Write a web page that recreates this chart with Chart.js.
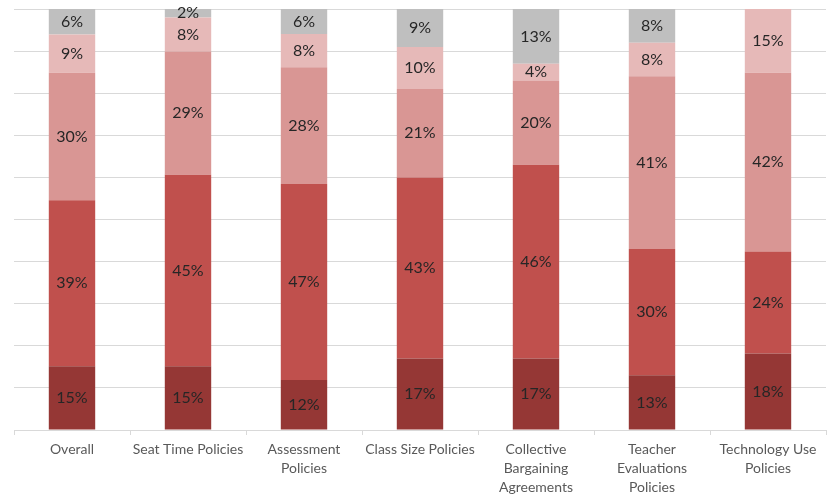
<!DOCTYPE html>
<html><head><meta charset="utf-8">
<script src="https://cdn.jsdelivr.net/npm/chart.js@4/dist/chart.umd.min.js"></script>
<style>html,body{margin:0;padding:0;background:#fff}#wrap{width:835px;height:497px}</style>
</head><body><div id="wrap"><canvas id="c" width="835" height="497"></canvas></div>
<script>
const categories = [["Overall"], ["Seat Time Policies"], ["Assessment", "Policies"], ["Class Size Policies"], ["Collective", "Bargaining", "Agreements"], ["Teacher", "Evaluations", "Policies"], ["Technology Use", "Policies"]];
const seriesA = [15, 15, 12, 17, 17, 13, 18];
const seriesB = [39, 45, 47, 43, 46, 30, 24];
const seriesC = [30, 29, 28, 21, 20, 41, 42];
const seriesD = [9, 8, 8, 10, 4, 8, 15];
const seriesE = [6, 2, 6, 9, 13, 8, 0];
const yTicks = [0,10,20,30,40,50,60,70,80,90,100];

const raw = [seriesA, seriesB, seriesC, seriesD, seriesE];
const colors = ["#953735", "#c0504d", "#d99694", "#e6b9b8", "#bfbfbf"];
const totals = categories.map((_, i) => raw.reduce((s, r) => s + r[i], 0));
const datasets = raw.map((r, k) => ({
  label: "S" + k,
  data: r.map((v, i) => v / totals[i] * 100),
  rawData: r,
  backgroundColor: colors[k],
  borderWidth: 0,
  barPercentage: 0.4,
  categoryPercentage: 1.0
}));

const labelPlugin = {
  id: "labels",
  afterDatasetsDraw(chart) {
    const ctx = chart.ctx;
    ctx.save();
    ctx.font = "16px Lato, 'Open Sans', sans-serif";
    ctx.fillStyle = "#262626";
    ctx.textAlign = "center";
    ctx.textBaseline = "middle";
    chart.data.datasets.forEach((ds, di) => {
      const meta = chart.getDatasetMeta(di);
      meta.data.forEach((bar, i) => {
        const v = ds.rawData[i];
        if (!v) return;
        const yc = (bar.y + bar.base) / 2;
        ctx.fillText(v + "%", bar.x, yc);
      });
    });
    ctx.restore();
  }
};

new Chart(document.getElementById("c"), {
  type: "bar",
  data: { labels: categories, datasets },
  options: {
    responsive: false,
    animation: false,
    layout: { padding: { left: 14, right: 9, top: 9, bottom: 0 } },
    plugins: { legend: { display: false }, tooltip: { enabled: false } },
    scales: {
      x: {
        stacked: true,
        offset: true,
        grid: { offset: true, drawOnChartArea: false, drawTicks: true, tickLength: 5, color: "#d9d9d9" },
        border: { display: true, color: "#d9d9d9", width: 1 },
        ticks: { color: "#595959", font: { size: 14, family: "Lato, 'Open Sans', sans-serif", lineHeight: 1.36 }, padding: 5, maxRotation: 0, autoSkip: false },
        afterFit(scale) { scale.height = 67; }
      },
      y: {
        stacked: true,
        min: 0, max: 100,
        afterBuildTicks(scale) { scale.ticks = yTicks.map(v => ({ value: v })); },
        ticks: { display: false },
        grid: { color: "#d9d9d9", drawTicks: false, lineWidth: 1 },
        border: { display: false }
      }
    }
  },
  plugins: [labelPlugin]
});
</script>
</body></html>
